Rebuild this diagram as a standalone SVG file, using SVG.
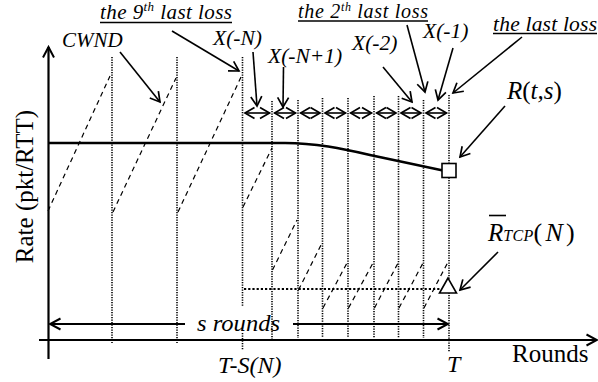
<svg xmlns="http://www.w3.org/2000/svg" width="598" height="382" viewBox="0 0 598 382">
<style>
text{font-family:"Liberation Serif","Times New Roman",serif;fill:#000}
.it{font-style:italic}
.up{font-style:normal}
.ax{stroke:#000;stroke-width:2.2;fill:none}
.dot{stroke:#000;stroke-width:1.6;stroke-dasharray:1.2 1.3;fill:none}
.dash{stroke:#000;stroke-width:1.2;stroke-dasharray:5 4;fill:none}
.hdot{stroke:#000;stroke-width:2;stroke-dasharray:2.2 2;fill:none}
.con{stroke:#000;stroke-width:1.6;fill:none;marker-end:url(#ah)}
.dbl{stroke:#000;stroke-width:1.6;fill:none;marker-end:url(#ah);marker-start:url(#ah)}
.ul{stroke:#000;stroke-width:1.3}
</style>
<defs>
<marker id="ah" viewBox="-12 -7 14 14" refX="0" refY="0" markerWidth="14" markerHeight="14" markerUnits="userSpaceOnUse" orient="auto-start-reverse">
<path d="M-9.5,-5.5 L0,0 L-9.5,5.5" fill="none" stroke="#000" stroke-width="1.7"/>
</marker>
<marker id="ahx" viewBox="-13 -8 15 16" refX="0" refY="0" markerWidth="15" markerHeight="16" markerUnits="userSpaceOnUse" orient="auto-start-reverse">
<path d="M-10.5,-5.5 L0,0 L-10.5,5.5" fill="none" stroke="#000" stroke-width="2"/>
</marker>
</defs>
<rect width="598" height="382" fill="#fff"/>

<g id="axes">
<line class="ax" x1="48.5" y1="359" x2="48.5" y2="47" marker-end="url(#ahx)"/>
<line class="ax" x1="39" y1="340" x2="597" y2="340" marker-end="url(#ahx)"/>
</g>

<g id="grid">
<line class="dot" x1="112" y1="57" x2="112" y2="343"/>
<line class="dot" x1="177" y1="57" x2="177" y2="343"/>
<line class="dot" x1="242.5" y1="57" x2="242.5" y2="307"/>
<line class="dot" x1="242.5" y1="333" x2="242.5" y2="350"/>
<line class="dot" x1="272" y1="101" x2="272" y2="340"/>
<line class="dot" x1="298" y1="100" x2="298" y2="338"/>
<line class="dot" x1="322.5" y1="98" x2="322.5" y2="338"/>
<line class="dot" x1="348" y1="98" x2="348" y2="338"/>
<line class="dot" x1="374" y1="96" x2="374" y2="338"/>
<line class="dot" x1="398.5" y1="96" x2="398.5" y2="338"/>
<line class="dot" x1="423.5" y1="100" x2="423.5" y2="338"/>
<line class="dot" x1="449" y1="95" x2="449" y2="352"/>
<line class="hdot" x1="244" y1="289" x2="440" y2="289"/>
</g>

<g id="cwnd">
<line class="dash" x1="48" y1="211" x2="110" y2="76"/>
<line class="dash" x1="113" y1="212" x2="176" y2="78"/>
<line class="dash" x1="178" y1="212" x2="241" y2="77"/>
<line class="dash" x1="243" y1="207" x2="272" y2="148"/>
<line class="dash" x1="272.5" y1="270" x2="297" y2="220"/>
<line class="dash" x1="298.5" y1="290" x2="322" y2="243"/>
<line class="dash" x1="323" y1="308" x2="347" y2="263"/>
<line class="dash" x1="348.5" y1="308" x2="373" y2="263"/>
<line class="dash" x1="374.5" y1="308" x2="398" y2="263"/>
<line class="dash" x1="399" y1="308" x2="423" y2="263"/>
<line class="dash" x1="424" y1="308" x2="448" y2="262"/>
</g>

<g id="rate-curve">
<path d="M48.5,143 L285,143 C315,143 342,148.5 370,155 L443,170.5" fill="none" stroke="#000" stroke-width="2.6"/>
</g>

<g id="intervals">
<line class="dbl" x1="245" y1="113" x2="269.5" y2="113"/>
<line class="dbl" x1="274.5" y1="113" x2="295.5" y2="113"/>
<line class="dbl" x1="300.5" y1="113" x2="320" y2="113"/>
<line class="dbl" x1="325" y1="113" x2="345.5" y2="113"/>
<line class="dbl" x1="350.5" y1="113" x2="371.5" y2="113"/>
<line class="dbl" x1="376.5" y1="113" x2="396" y2="113"/>
<line class="dbl" x1="401" y1="113" x2="421" y2="113"/>
<line class="dbl" x1="426" y1="113" x2="446.5" y2="113"/>
</g>

<g id="s-rounds">
<line stroke="#000" stroke-width="1.8" x1="185" y1="324" x2="50" y2="324" marker-end="url(#ahx)"/>
<line stroke="#000" stroke-width="1.8" x1="293" y1="324" x2="448" y2="324" marker-end="url(#ahx)"/>
<text class="it" x="197" y="331" font-size="23" textLength="83" lengthAdjust="spacingAndGlyphs">s rounds</text>
</g>

<g id="node-square">
<rect x="442" y="163.5" width="14" height="14" fill="#fff" stroke="#000" stroke-width="1.6"/>
</g>
<g id="node-triangle">
<polygon points="448,278 439.5,293 456.5,293" fill="#fff" stroke="#000" stroke-width="1.6"/>
</g>

<g id="connectors">
<line class="con" x1="120" y1="52" x2="160" y2="102"/>
<line class="con" x1="172" y1="31" x2="239" y2="71"/>
<line class="con" x1="253" y1="52" x2="257" y2="106"/>
<line class="con" x1="283.5" y1="67" x2="283" y2="107"/>
<line class="con" x1="383" y1="67" x2="412" y2="102"/>
<line class="con" x1="407" y1="25" x2="425" y2="92"/>
<line class="con" x1="453" y1="48" x2="438" y2="100"/>
<line class="con" x1="522" y1="37" x2="453" y2="93"/>
<line class="con" x1="505" y1="106" x2="460" y2="157"/>
<line class="con" x1="498" y1="252" x2="460" y2="290"/>
</g>

<g id="labels">
<text class="it" x="62" y="47" font-size="21">CWND</text>
<g id="lbl-9th">
<text class="it" x="100" y="19" font-size="21" textLength="132">the 9<tspan font-size="13" dy="-8">th</tspan><tspan dy="8"> last loss</tspan></text>
<line class="ul" x1="100" y1="22.5" x2="232" y2="22.5"/>
</g>
<g id="lbl-2th">
<text class="it" x="298" y="18" font-size="20" textLength="130">the 2<tspan font-size="12" dy="-7">th</tspan><tspan dy="7"> last loss</tspan></text>
<line class="ul" x1="298" y1="21" x2="428" y2="21"/>
</g>
<g id="lbl-last">
<text class="it" x="493" y="30.5" font-size="21.5" textLength="104">the last loss</text>
<line class="ul" x1="493" y1="33.5" x2="597" y2="33.5"/>
</g>
<text class="it" x="213" y="45" font-size="21.5">X(-N)</text>
<text class="it" x="268" y="63" font-size="21.5">X(-N+1)</text>
<text class="it" x="352" y="50" font-size="21.5">X(-2)</text>
<text class="it" x="423" y="38" font-size="21.5">X(-1)</text>
<text x="507" y="99" font-size="25"><tspan class="it">R</tspan><tspan class="up">(</tspan><tspan class="it">t,s</tspan><tspan class="up">)</tspan></text>
<g id="lbl-rtcp">
<line stroke="#000" stroke-width="1.6" x1="489" y1="215.5" x2="506" y2="215.5"/>
<text x="488" y="241" font-size="25"><tspan class="it">R</tspan><tspan class="it" font-size="16" textLength="30">TCP</tspan><tspan class="up" font-size="26" textLength="41">(<tspan class="it">N</tspan>)</tspan></text>
</g>
<text transform="translate(33,186.5) rotate(-90)" text-anchor="middle" font-size="25">Rate (pkt/RTT)</text>
<text x="512" y="362" font-size="25">Rounds</text>
<text class="it" x="218" y="373" font-size="24">T-S(N)</text>
<text class="it" x="447" y="372" font-size="24">T</text>
</g>
</svg>
